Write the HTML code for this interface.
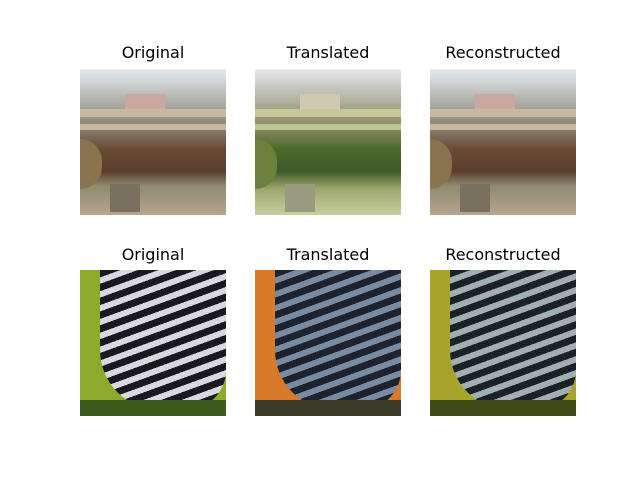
<!DOCTYPE html>
<html><head><meta charset="utf-8"><style>
body{margin:0;width:640px;height:480px;background:#fff;position:relative;overflow:hidden;font-family:"DejaVu Sans","Liberation Sans",sans-serif}
.t{position:absolute;width:146px;text-align:center;font-size:16px;color:#000}
.im{position:absolute;width:146px;height:146px;overflow:hidden}
.im div{position:absolute}
</style></head><body>
<div class="t" style="left:80px;top:43px">Original</div>
<div class="t" style="left:255px;top:43px">Translated</div>
<div class="t" style="left:430px;top:43px">Reconstructed</div>
<div class="t" style="left:80px;top:245px">Original</div>
<div class="t" style="left:255px;top:245px">Translated</div>
<div class="t" style="left:430px;top:245px">Reconstructed</div>

<!-- row1 original -->
<div class="im" style="left:80px;top:69px;background:linear-gradient(#e4ecf2 0%,#a9a8a0 25%,#8a8270 40%,#6a4a34 55%,#5a3e2c 70%,#8f8a70 80%,#b8a58e 100%)">
<div style="left:45px;top:25px;width:40px;height:20px;background:#c9a8a0"></div>
<div style="left:0;top:40px;width:146px;height:8px;background:#c8b8a0"></div>
<div style="left:0;top:55px;width:146px;height:6px;background:#c8b8a0"></div>
<div style="left:0;top:70px;width:22px;height:50px;background:#8a7450;border-radius:0 30px 30px 0"></div>
<div style="left:30px;top:115px;width:30px;height:28px;background:#7a7060"></div>
</div>
<!-- row1 translated -->
<div class="im" style="left:255px;top:69px;background:linear-gradient(#e8e8ee 0%,#a8a894 25%,#8c8a62 40%,#4a6a2c 55%,#3e5a28 70%,#9ca66a 82%,#c8d0a0 100%)">
<div style="left:45px;top:25px;width:40px;height:20px;background:#d0c8b0"></div>
<div style="left:0;top:40px;width:146px;height:8px;background:#c8c89a"></div>
<div style="left:0;top:55px;width:146px;height:6px;background:#b8c890"></div>
<div style="left:0;top:70px;width:22px;height:50px;background:#6e8040;border-radius:0 30px 30px 0"></div>
<div style="left:30px;top:115px;width:30px;height:28px;background:#9a9a80"></div>
</div>
<!-- row1 recon -->
<div class="im" style="left:430px;top:69px;background:linear-gradient(#e4ecf2 0%,#a9a8a0 25%,#8a8270 40%,#6a4a34 55%,#5a3e2c 70%,#8f8a70 80%,#b8a58e 100%)">
<div style="left:45px;top:25px;width:40px;height:20px;background:#c9a8a0"></div>
<div style="left:0;top:40px;width:146px;height:8px;background:#c8b8a0"></div>
<div style="left:0;top:55px;width:146px;height:6px;background:#c8b8a0"></div>
<div style="left:0;top:70px;width:22px;height:50px;background:#8a7450;border-radius:0 30px 30px 0"></div>
<div style="left:30px;top:115px;width:30px;height:28px;background:#7a7060"></div>
</div>

<!-- row2 original -->
<div class="im" style="left:80px;top:270px;background:#8aac2a">
<div style="left:20px;top:0;width:126px;height:140px;border-radius:0 0 40px 60px;background:repeating-linear-gradient(160deg,#1a1a1e 0 7px,#d8d8e0 7px 13px)"></div>
<div style="left:0;top:130px;width:146px;height:16px;background:#3e5a1a"></div>
</div>
<!-- row2 translated -->
<div class="im" style="left:255px;top:270px;background:#d87a2a">
<div style="left:20px;top:0;width:126px;height:140px;border-radius:0 0 40px 60px;background:repeating-linear-gradient(160deg,#1c2230 0 7px,#7a8aa0 7px 13px)"></div>
<div style="left:0;top:130px;width:146px;height:16px;background:#3a3a2a"></div>
</div>
<!-- row2 recon -->
<div class="im" style="left:430px;top:270px;background:#a8a42a">
<div style="left:20px;top:0;width:126px;height:140px;border-radius:0 0 40px 60px;background:repeating-linear-gradient(160deg,#1a2226 0 7px,#a0b0b0 7px 13px)"></div>
<div style="left:0;top:130px;width:146px;height:16px;background:#3e4a1a"></div>
</div>
</body></html>
